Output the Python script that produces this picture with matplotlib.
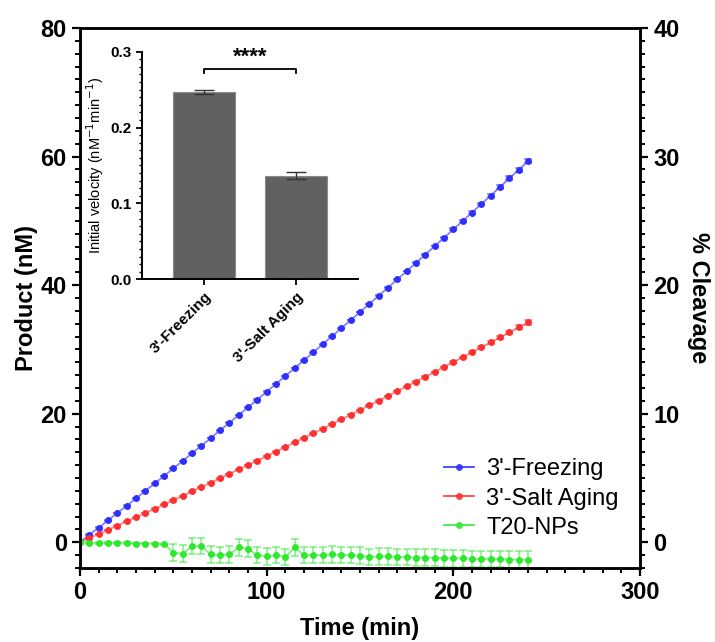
import numpy as np
import matplotlib
matplotlib.use("Agg")
import matplotlib.pyplot as plt
from matplotlib.ticker import MultipleLocator
from matplotlib.lines import Line2D

plt.rcParams['font.family'] = ['Liberation Sans', 'DejaVu Sans']

# time points (min)
tempo = list(range(0, 245, 5))

freezing = [0, 1.2, 2.26, 3.40, 4.54, 5.68, 6.83, 7.99, 9.15, 10.31, 11.48, 12.65, 13.83,
            15.01, 16.20, 17.39, 18.59, 19.79, 20.99, 22.20, 23.42, 24.64, 25.86, 27.09,
            28.32, 29.56, 30.80, 32.05, 33.30, 34.55, 35.81, 37.08, 38.35, 39.62, 40.90,
            42.18, 43.47, 44.76, 46.06, 47.36, 48.67, 49.98, 51.29, 52.61, 53.94, 55.27,
            56.60, 57.94, 59.28]
freezing_err = [0.05] * 40 + [0.15, 0.15, 0.2, 0.2, 0.25, 0.25, 0.3, 0.3, 0.35]

salt = [0, 0.64, 1.29, 1.93, 2.58, 3.24, 3.89, 4.55, 5.22, 5.88, 6.55, 7.22, 7.90, 8.58,
        9.26, 9.94, 10.63, 11.32, 12.01, 12.71, 13.40, 14.11, 14.81, 15.52, 16.23, 16.94,
        17.66, 18.38, 19.10, 19.83, 20.56, 21.29, 22.03, 22.76, 23.51, 24.25, 25.00, 25.75,
        26.50, 27.26, 28.02, 28.78, 29.54, 30.31, 31.08, 31.86, 32.64, 33.42, 34.20]
salt_err = [0.05] * 40 + [0.1, 0.1, 0.15, 0.15, 0.2, 0.2, 0.25, 0.3, 0.35]

t20 = [0, -0.1, -0.1, -0.1, -0.1, -0.1, -0.2, -0.2, -0.2, -0.3, -1.6, -1.8, -0.6, -0.6,
       -1.9, -2.0, -1.9, -0.8, -1.0, -2.0, -2.2, -2.0, -2.3, -0.8, -2.0, -2.0, -2.0, -1.9,
       -2.0, -2.0, -2.1, -2.3, -2.2, -2.2, -2.3, -2.3, -2.4, -2.4, -2.4, -2.5, -2.5, -2.5,
       -2.6, -2.6, -2.6, -2.6, -2.7, -2.7, -2.7]
t20_err = [0, 0.1, 0.1, 0.1, 0.1, 0.1, 0.1, 0.1, 0.1, 0.1] + [1.3] * 39

# inset: initial velocity
grupos = ["3'-Freezing", "3'-Salt Aging"]
velocidade = [0.247, 0.1366]
velocidade_err = [0.003, 0.005]

series = [(freezing, freezing_err, '#2f2fff', "3'-Freezing"),
          (salt, salt_err, '#ff3030', "3'-Salt Aging"),
          (t20, t20_err, '#2ee82e', "T20-NPs")]

fig = plt.figure(figsize=(7.15, 6.42), dpi=100)
ax = fig.add_axes([0.1119, 0.1153, 0.7832, 0.8411])

handles = []
for y, e, c, nome in series:
    # error bars and connecting line a bit lighter than the markers
    ax.errorbar(tempo, y, yerr=e, fmt='none', ecolor=c, elinewidth=1.1, capsize=3,
                capthick=1.1, alpha=0.6)
    ax.plot(tempo, y, color=c, lw=1.3, alpha=0.6)
    ax.plot(tempo, y, 'o', color=c, markersize=5, markeredgewidth=0)
    handles.append(Line2D([], [], color=c, lw=1.3, marker='o', markersize=5,
                          markeredgewidth=0, alpha=0.9))

ax.set_xlim(0, 300)
ax.set_ylim(-4, 80)
ax.xaxis.set_major_locator(MultipleLocator(100))
ax.xaxis.set_minor_locator(MultipleLocator(10))
ax.yaxis.set_major_locator(MultipleLocator(20))
ax.yaxis.set_minor_locator(MultipleLocator(2))
ax.tick_params(which='major', length=6, width=1.6, labelsize=17, direction='out')
ax.tick_params(which='minor', length=3.5, width=1.4, direction='out')
for lab in ax.get_xticklabels() + ax.get_yticklabels():
    lab.set_fontweight('bold')
for s in ax.spines.values():
    s.set_linewidth(1.8)
ax.set_xlabel('Time (min)', fontsize=17, fontweight='bold', labelpad=9)
ax.set_ylabel('Product (nM)', fontsize=17, fontweight='bold', labelpad=2)

ax2 = ax.twinx()
ax2.set_ylim(-2, 40)
ax2.yaxis.set_major_locator(MultipleLocator(10))
ax2.yaxis.set_minor_locator(MultipleLocator(1))
ax2.tick_params(which='major', length=6, width=1.6, labelsize=17, direction='out')
ax2.tick_params(which='minor', length=3.5, width=1.4, direction='out')
for lab in ax2.get_yticklabels():
    lab.set_fontweight('bold')
for s in ax2.spines.values():
    s.set_linewidth(1.8)
ax2.set_ylabel('% Cleavage', fontsize=17, fontweight='bold', rotation=270, labelpad=22)

ax.legend(handles, [s[3] for s in series], loc='lower right',
          bbox_to_anchor=(1.0, 0.015), frameon=False, fontsize=17,
          handlelength=1.3, handletextpad=0.5, labelspacing=0.3)

# inset bar chart
axi = fig.add_axes([0.1986, 0.5650, 0.3021, 0.3545])
axi.bar(range(len(grupos)), velocidade, width=0.67, color='#616161',
        edgecolor='#8a8a8a', linewidth=0.8, yerr=velocidade_err,
        error_kw=dict(ecolor='#333333', elinewidth=1, capsize=7, capthick=1))
axi.set_xlim(-0.674, 1.674)
axi.set_ylim(0, 0.3)
axi.set_xticks(range(len(grupos)))
axi.set_xticklabels(grupos, rotation=45, ha='right', rotation_mode='anchor',
                    fontsize=11, fontweight='bold')
axi.yaxis.set_major_locator(MultipleLocator(0.1))
axi.yaxis.set_minor_locator(MultipleLocator(0.01))
axi.tick_params(which='major', length=4, width=1.3, labelsize=11)
axi.tick_params(which='minor', length=2, width=1.0)
for lab in axi.get_yticklabels():
    lab.set_fontweight('bold')
axi.spines['top'].set_visible(False)
axi.spines['right'].set_visible(False)
axi.spines['left'].set_linewidth(1.4)
axi.spines['bottom'].set_linewidth(1.4)
axi.set_ylabel('Initial velocity (nM$^{-1}$min$^{-1}$)', fontsize=10.5, labelpad=3)

# significance bracket
axi.plot([0, 0, 1, 1], [0.2715, 0.277, 0.277, 0.2715], color='black', lw=1.3, clip_on=False)
axi.text(0.5, 0.279, '****', ha='center', va='bottom', fontsize=16, fontweight='bold',
         clip_on=False)

fig.savefig('out.png', dpi=100)
